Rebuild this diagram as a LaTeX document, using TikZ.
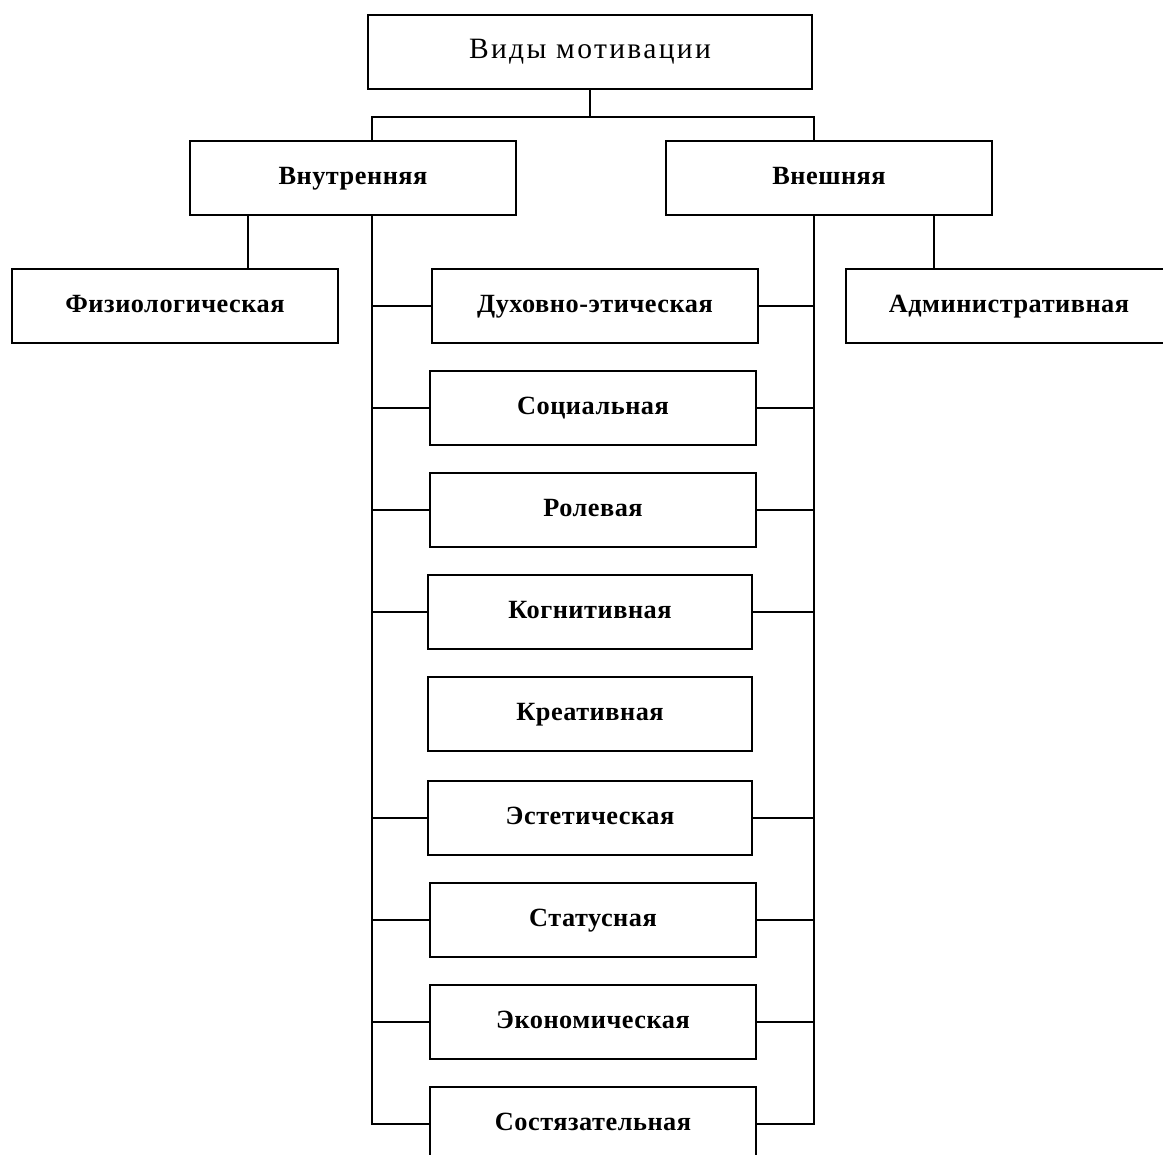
\documentclass[tikz,border=0pt]{standalone}
\usepackage{fontspec}
\setmainfont{Liberation Serif}
\newfontfamily\titlefont[LetterSpace=8]{Liberation Serif}
\newfontfamily\boxfont[LetterSpace=2]{Liberation Serif}
\tikzset{
  kind/.style={draw, line width=1.2pt, minimum width=8.15cm, minimum height=1.85cm,
    inner sep=0pt, text height=13pt, text depth=4pt,
    font=\boxfont\bfseries\fontsize{18.7}{22}\selectfont},
  link/.style={line width=1.2pt}
}
\begin{document}
\begin{tikzpicture}[x=0.025cm,y=-0.025cm]
          \clip (0,0) rectangle (1163,1155);
          \node[kind, minimum width=11.1cm, font=\titlefont\fontsize{21}{24}\selectfont] (types) at (590,52) {Виды мотивации};
          \node[kind] (inner) at (353,178) {Внутренняя};
          \node[kind] (outer) at (829,178) {Внешняя};
          \node[kind] (phys) at (175,306) {Физиологическая};
          \node[kind] (admin) at (1009,306) {Административная};
          \node[kind] (spirit) at (595,306) {Духовно-этическая};
          \node[kind] (social) at (593,408) {Социальная};
          \node[kind] (role) at (593,510) {Ролевая};
          \node[kind, minimum width=8.1cm] (cogn) at (590,612) {Когнитивная};
          \node[kind, minimum width=8.1cm] (creat) at (590,714) {Креативная};
          \node[kind, minimum width=8.1cm] (esthet) at (590,818) {Эстетическая};
          \node[kind] (status) at (593,920) {Статусная};
          \node[kind] (econ) at (593,1022) {Экономическая};
          \node[kind] (compet) at (593,1124) {Состязательная};
          \coordinate (lt) at (372,117);
          \coordinate (rt) at (814,117);
          \draw[link] (types.south) -- (types.south |- lt);
          \draw[link] (inner.north -| lt) -- (lt) -- (rt) -- (outer.north -| rt);
          \draw[link] (inner.south -| phys) ++(73,0) coordinate (pt) -- (phys.north -| pt);
          \draw[link] (outer.south -| admin) ++(-75,0) coordinate (at) -- (admin.north -| at);
          \draw[link] (inner.south -| lt) |- (compet.west);
          \draw[link] (outer.south -| rt) |- (compet.east);
          \draw[link] (spirit.west -| lt) -- (spirit.west);
          \draw[link] (spirit.east) -- (spirit.east -| rt);
          \draw[link] (social.west -| lt) -- (social.west);
          \draw[link] (social.east) -- (social.east -| rt);
          \draw[link] (role.west -| lt) -- (role.west);
          \draw[link] (role.east) -- (role.east -| rt);
          \draw[link] (cogn.west -| lt) -- (cogn.west);
          \draw[link] (cogn.east) -- (cogn.east -| rt);
          \draw[link] (esthet.west -| lt) -- (esthet.west);
          \draw[link] (esthet.east) -- (esthet.east -| rt);
          \draw[link] (status.west -| lt) -- (status.west);
          \draw[link] (status.east) -- (status.east -| rt);
          \draw[link] (econ.west -| lt) -- (econ.west);
          \draw[link] (econ.east) -- (econ.east -| rt);
        \end{tikzpicture}
\end{document}
